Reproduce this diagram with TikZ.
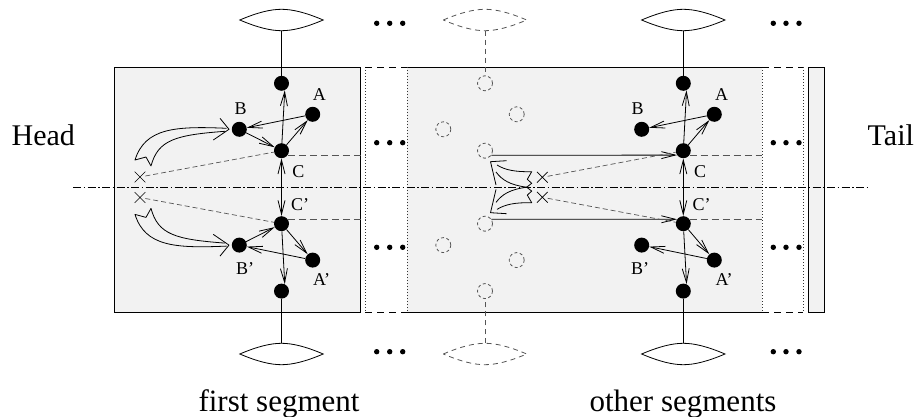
\documentclass[tikz,border=0pt]{standalone}
\usepackage{fontspec}
\setmainfont{Liberation Serif}
\usetikzlibrary{arrows.meta,shapes.misc,calc}
\definecolor{segfill}{RGB}{242,242,242}
\definecolor{dashgray}{RGB}{85,85,85}
\tikzset{
  lens/.pic={
    \draw[#1] (-41.7,0) .. controls (-24,-7.5) and (-11,-10.7) .. (0,-10.7)
      .. controls (11,-10.7) and (24,-7.5) .. (41.7,0)
      .. controls (24,7.5) and (11,10.7) .. (0,10.7)
      .. controls (-11,10.7) and (-24,7.5) .. cycle;
    \coordinate (-b) at (0,10.7);
    \coordinate (-t) at (0,-10.7);
  }
}
\newcommand\fatfirstpath{%
  \draw[fatline] (226.7,128.3) .. controls (175,126) and (145,128) .. (135,160)
     -- (146,157) -- (151,166) .. controls (158,140) and (175,135) .. (225,131.3);
  \draw[fatline] (220,118.3) -- (229,129.3) -- (213.3,140);
}
\newcommand\fatmidpath{%
  \draw[fatline] (497,165) .. controls (505,170) and (515,172) .. (531.7,171.7)
     -- (527.3,179.3) -- (531.7,183.3) -- (526.7,187.2)
     .. controls (510,185) and (502,180) .. (496,172);
  \draw[fatline] (506.7,160.7) -- (490.5,161.7) -- (496,185);
}
\begin{document}
\begin{tikzpicture}[x=1pt,y=-1pt,
  dot/.style={circle,fill=black,inner sep=0pt,minimum size=15pt},
  ghost/.style={circle,draw=dashgray,dash pattern=on 3pt off 2.5pt,inner sep=0pt,minimum size=15pt,line width=0.8pt},
  lbl/.style={font=\fontsize{18}{18}\selectfont,inner sep=0pt},
  big/.style={font=\fontsize{30}{30}\selectfont,inner sep=0pt,anchor=base},
  bigger/.style={font=\fontsize{31}{31}\selectfont,inner sep=0pt,anchor=base},
  ar/.style={line width=0.8pt,-{Straight Barb[length=14pt,width=7pt]}},
  dar/.style={line width=0.8pt,{Straight Barb[length=14pt,width=7pt]}-{Straight Barb[length=14pt,width=7pt]}},
  crossmark/.style={cross out,draw,minimum size=10pt,inner sep=0pt,line width=0.7pt},
  fine/.style={draw=dashgray,line width=0.7pt,dash pattern=on 5pt off 3pt},
  hdash/.style={draw=dashgray,line width=0.8pt,dash pattern=on 7pt off 4pt},
  frame/.style={draw=black,line width=0.9pt},
  dotline/.style={draw=black!80,line width=0.8pt,dash pattern=on 1pt off 2pt},
  gapdash/.style={draw=black,line width=0.9pt,dash pattern=on 7pt off 5pt},
  solidline/.style={draw=black,line width=0.8pt},
  ghostline/.style={draw=dashgray,line width=0.8pt,dash pattern=on 5pt off 4pt},
  fatline/.style={draw=black,line width=0.8pt,line join=round},
  axis/.style={draw=black,line width=0.8pt,dash pattern=on 8pt off 2.5pt on 1.5pt off 2.5pt}
]
\useasboundingbox (0,0) rectangle (919,417);

% segments
\fill[segfill] (114,67) rectangle (360,312);
\draw[frame] (114,67) rectangle (360,312);
\fill[segfill] (407,67) rectangle (762,312);
\draw[frame] (407,67) -- (762,67) (407,312) -- (762,312);
\draw[dotline] (365,67) -- (365,312) (407,67) -- (407,312) (762,67) -- (762,312) (803,67) -- (803,312);
\draw[gapdash] (365,67) -- (407,67) (365,312) -- (407,312) (762,67) -- (803,67) (762,312) -- (803,312);
\fill[segfill] (808,67) rectangle (824,312);
\draw[frame] (808,67) rectangle (824,312);

% ellipsis dots
\foreach \x in {376.7,389.7,402.7,773.3,786,799}
  \foreach \y in {23.3,142.7,247.3,351.7}
    \fill (\x,\y) circle[radius=2.7pt];

% lenses
\pic (D1) at (281.5,20) {lens=solidline};
\pic (E1) at (281.5,354) {lens=solidline};
\pic (D2) at (683.3,20) {lens=solidline};
\pic (E2) at (683.3,354) {lens=solidline};
\pic (DG) at (485,20) {lens=ghostline};
\pic (EG) at (485,354) {lens=ghostline};

% first segment nodes
\node[dot] (T1) at (281.5,83.3) {};
\node[dot] (A1) at (312.7,114.3) {};
\node[dot] (B1) at (239.3,129.3) {};
\node[dot] (C1) at (281.5,150.7) {};
\node[dot] (Cp1) at (281.5,223.7) {};
\node[dot] (Bp1) at (239.3,245.1) {};
\node[dot] (Ap1) at (312.7,260.1) {};
\node[dot] (Bt1) at (281.5,291.1) {};
% second segment nodes
\node[dot] (T2) at (683.3,83.3) {};
\node[dot] (A2) at (714.3,114.3) {};
\node[dot] (B2) at (641.7,129.3) {};
\node[dot] (C2) at (683.3,150.7) {};
\node[dot] (Cp2) at (683.3,223.7) {};
\node[dot] (Bp2) at (641.7,245.1) {};
\node[dot] (Ap2) at (714.3,260.1) {};
\node[dot] (Bt2) at (683.3,291.1) {};
% ghost nodes
\node[ghost] (GT) at (485,83.3) {};
\node[ghost] (GA) at (516.7,114.3) {};
\node[ghost] (GB) at (443.3,129.3) {};
\node[ghost] (GC) at (485,150.7) {};
\node[ghost] (GCp) at (485,223.7) {};
\node[ghost] (GBp) at (443.3,245.1) {};
\node[ghost] (GAp) at (516.7,260.1) {};
\node[ghost] (GBt) at (485,291.1) {};

% labels
\node[lbl] at (319.3,94.3) {A};
\node[lbl] at (240.7,108.3) {B};
\node[lbl] at (298.3,171.7) {C};
\node[lbl] at (300,205) {C'};
\node[lbl] at (245,268.3) {B'};
\node[lbl] at (321.7,280) {A'};
\node[lbl] at (721.7,94.3) {A};
\node[lbl] at (637.7,108.3) {B};
\node[lbl] at (700,171.7) {C};
\node[lbl] at (701.5,205) {C'};
\node[lbl] at (640,268.3) {B'};
\node[lbl] at (724,280) {A'};

% vertical connections to lenses
\draw[solidline] (D1-b) -- (T1);
\draw[solidline] (E1-t) -- (Bt1);
\draw[solidline] (D2-b) -- (T2);
\draw[solidline] (E2-t) -- (Bt2);
\draw[ghostline] (DG-b) -- (GT);
\draw[ghostline] (EG-t) -- (GBt);

% free ends
\coordinate (R1) at (365,187.2);
\coordinate (R2) at (762,187.2);
\coordinate (AxL) at (73,187.2);
\coordinate (AxR) at (866.7,187.2);

% dashed horizontals
\draw[hdash] (C1.-35) -- (C1.-35 -| R1);
\draw[hdash] (Cp1.35) -- (Cp1.35 -| R1);
\draw[hdash] (C2.-35) -- (C2.-35 -| R2);
\draw[hdash] (Cp2.35) -- (Cp2.35 -| R2);

% first segment arrows
\draw[ar] (C1) -- (T1.-65);
\draw[ar] (A1) -- (B1);
\draw[ar] (B1) -- (C1);
\draw[ar] (C1) -- (A1);
\draw[dar] (C1) -- (Cp1);
\draw[ar] (Cp1) -- (Bt1.65);
\draw[ar] (Cp1) -- (Ap1);
\draw[ar] (Ap1) -- (Bp1);
\draw[ar] (Bp1) -- (Cp1);
% second segment arrows
\draw[ar] (C2) -- (T2.-65);
\draw[ar] (A2) -- (B2);
\draw[ar] (C2) -- (A2);
\draw[dar] (C2) -- (Cp2);
\draw[ar] (Cp2) -- (Bt2.65);
\draw[ar] (Cp2) -- (Ap2);
\draw[ar] (Ap2) -- (Bp2);
\draw[ar] (GC.-35) -- (C2.-145);
\draw[ar] (GCp.35) -- (Cp2.145);

% crosses
\node[crossmark] (X1) at (140,177) {};
\node[crossmark] (X2) at (140,197.5) {};
\node[crossmark] (X3) at (542.3,177.3) {};
\node[crossmark] (X4) at (542.3,197.3) {};
\draw[fine] (X1) -- (C1);
\draw[fine] (X2) -- (Cp1);
\draw[fine] (X3) -- (C2);
\draw[fine] (X4) -- (Cp2);

% fat arrows
\fatfirstpath
\begin{scope}[shift={(0,374.4)},yscale=-1]
\fatfirstpath
\end{scope}
\fatmidpath
\begin{scope}[shift={(0,374.4)},yscale=-1]
\fatmidpath
\end{scope}

% axis
\draw[axis] (AxL) -- (AxR);

% big texts
\node[big] (head) at (43.3,145.7) {Head};
\node[big] (tail) at (890.8,145.7) {Tail};
\node[bigger] (first) at (279,411.5) {first segment};
\node[bigger] (other) at (683,411.5) {other segments};
\end{tikzpicture}
\end{document}
